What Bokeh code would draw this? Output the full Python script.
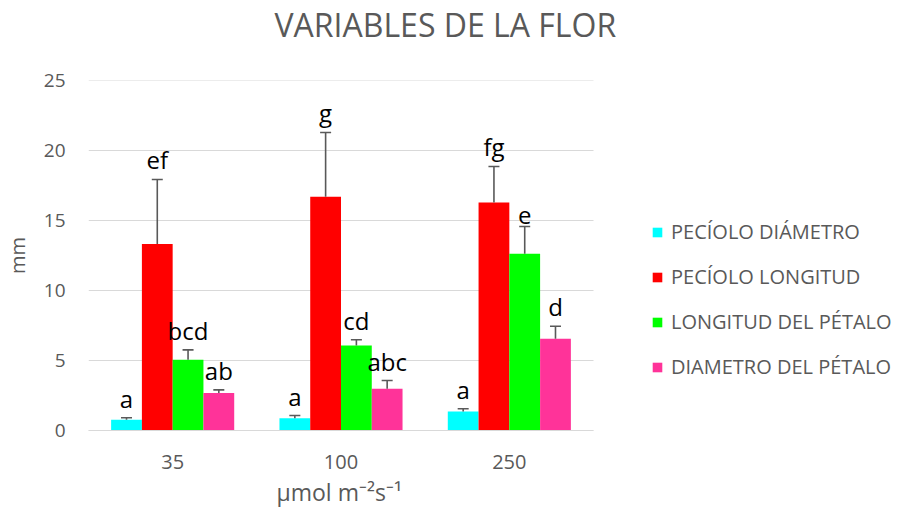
from bokeh.plotting import figure
from bokeh.models import (ColumnDataSource, Range1d, Legend, LegendItem,
                          FixedTicker, Title)
from bokeh.core.properties import value
from bokeh.embed import file_html
from bokeh.resources import INLINE

# ---------------- data ----------------
categories = ["35", "100", "250"]
series_names = ["PECÍOLO DIÁMETRO", "PECÍOLO LONGITUD",
                "LONGITUD DEL PÉTALO", "DIAMETRO DEL PÉTALO"]
peciolo_diametro = [0.76, 0.88, 1.36]
peciolo_longitud = [13.33, 16.69, 16.29]
longitud_petalo = [5.05, 6.07, 12.62]
diametro_petalo = [2.67, 2.98, 6.55]

err_peciolo_diametro = [0.15, 0.19, 0.19]
err_peciolo_longitud = [4.60, 4.60, 2.57]
err_longitud_petalo = [0.71, 0.41, 1.95]
err_diametro_petalo = [0.23, 0.59, 0.90]

letters_peciolo_diametro = ["a", "a", "a"]
letters_peciolo_longitud = ["ef", "g", "fg"]
letters_longitud_petalo = ["bcd", "cd", "e"]
letters_diametro_petalo = ["ab", "abc", "d"]

colors = ["#00FFFF", "#FF0000", "#00FF00", "#FF3399"]
y_ticks = [0, 5, 10, 15, 20, 25]

values = [peciolo_diametro, peciolo_longitud, longitud_petalo, diametro_petalo]
errors = [err_peciolo_diametro, err_peciolo_longitud, err_longitud_petalo, err_diametro_petalo]
letters = [letters_peciolo_diametro, letters_peciolo_longitud,
           letters_longitud_petalo, letters_diametro_petalo]

FONT = "Open Sans"
GRAY = "#595959"

n = len(categories)
cat_pos = [i + 0.5 for i in range(n)]          # category centres (one unit per category)
LEFT, FW, FH = 79, 809, 350
plot_px = 505                                    # width of the category area
x_end = n * FW / plot_px                         # room on the right for the legend

p = figure(x_range=Range1d(0, x_end), y_range=Range1d(0, 25),
           frame_width=FW, frame_height=FH,
           output_backend="svg", toolbar_location=None,
           min_border_left=LEFT, min_border_right=0,
           min_border_top=0, min_border_bottom=0)
p.background_fill_color = "white"
p.border_fill_color = "white"
p.outline_line_color = None
p.xgrid.grid_line_color = None
p.ygrid.grid_line_color = None

# horizontal gridlines limited to the category area
p.segment(x0=[0] * len(y_ticks), x1=[n] * len(y_ticks), y0=y_ticks, y1=y_ticks,
          line_color="#D9D9D9", line_width=1)

bw = 0.1828
offsets = [-1.5 * bw, -0.5 * bw, 0.5 * bw, 1.5 * bw]

items = []
for i in range(4):
    xs = [c + offsets[i] for c in cat_pos]
    tops = [v + e for v, e in zip(values[i], errors[i])]
    src = ColumnDataSource(dict(x=xs, val=values[i], top=tops, lab=letters[i]))
    r = p.vbar(x="x", top="val", bottom=0, width=bw, source=src,
               fill_color=colors[i], line_color=None)
    p.segment(x0="x", y0="val", x1="x", y1="top", source=src,
              line_color=GRAY, line_width=1.6)
    p.scatter(x="x", y="top", source=src, marker="dash", size=11,
              line_color=GRAY, line_width=1.6)
    p.text(x="x", y="top", text="lab", source=src, text_align="center",
           text_baseline="bottom", y_offset=-3, text_font=value(FONT),
           text_font_size="24px", text_color="black")
    items.append(LegendItem(label=series_names[i], renderers=[r]))

legend = Legend(items=items, location=(563, 50), orientation="vertical",
                glyph_width=12, glyph_height=12, label_standoff=8,
                label_text_font=FONT, label_text_font_size="20px",
                label_text_color=GRAY, label_height=22, spacing=18,
                padding=0, margin=0, border_line_color=None,
                background_fill_alpha=0)
p.add_layout(legend)

# title: a blank spacer next to the frame, then the real title above it
p.title.text = ""
spacer = Title(text=" ", text_font=FONT, text_font_size="20px", standoff=6)
p.add_layout(spacer, "above")
main_title = Title(text="VARIABLES DE LA FLOR", align="left", offset=186,
                   text_font=FONT, text_font_size="32px", text_font_style="normal",
                   text_color=GRAY, standoff=0)
p.add_layout(main_title, "above")

# axes
p.xaxis.bounds = (0, n)
p.xaxis.ticker = FixedTicker(ticks=cat_pos)
p.xaxis.major_label_overrides = {c: lab for c, lab in zip(cat_pos, categories)}
p.xaxis.axis_line_color = "#D9D9D9"
p.xaxis.axis_line_width = 1
p.xaxis.major_tick_line_color = None
p.xaxis.minor_tick_line_color = None
p.xaxis.major_label_text_font = FONT
p.xaxis.major_label_text_font_size = "20px"
p.xaxis.major_label_text_color = GRAY
p.xaxis.major_label_standoff = 18

# x-axis title, centred under the category area
xlabel = Title(text="μmol m⁻²s⁻¹", align="left", offset=188,
               text_font=FONT, text_font_size="23px", text_font_style="normal",
               text_color=GRAY, standoff=5)
p.add_layout(xlabel, "below")

p.yaxis.ticker = FixedTicker(ticks=y_ticks)
p.yaxis.axis_line_color = None
p.yaxis.major_tick_line_color = None
p.yaxis.minor_tick_line_color = None
p.yaxis.major_label_text_font = FONT
p.yaxis.major_label_text_font_size = "19px"
p.yaxis.major_label_text_color = GRAY
p.yaxis.major_label_standoff = 17
p.yaxis.axis_label = "mm"
p.yaxis.axis_label_text_font = FONT
p.yaxis.axis_label_text_font_size = "20px"
p.yaxis.axis_label_text_font_style = "normal"
p.yaxis.axis_label_text_color = GRAY
p.yaxis.axis_label_standoff = 10

open("out.html", "w").write(file_html(p, INLINE))
